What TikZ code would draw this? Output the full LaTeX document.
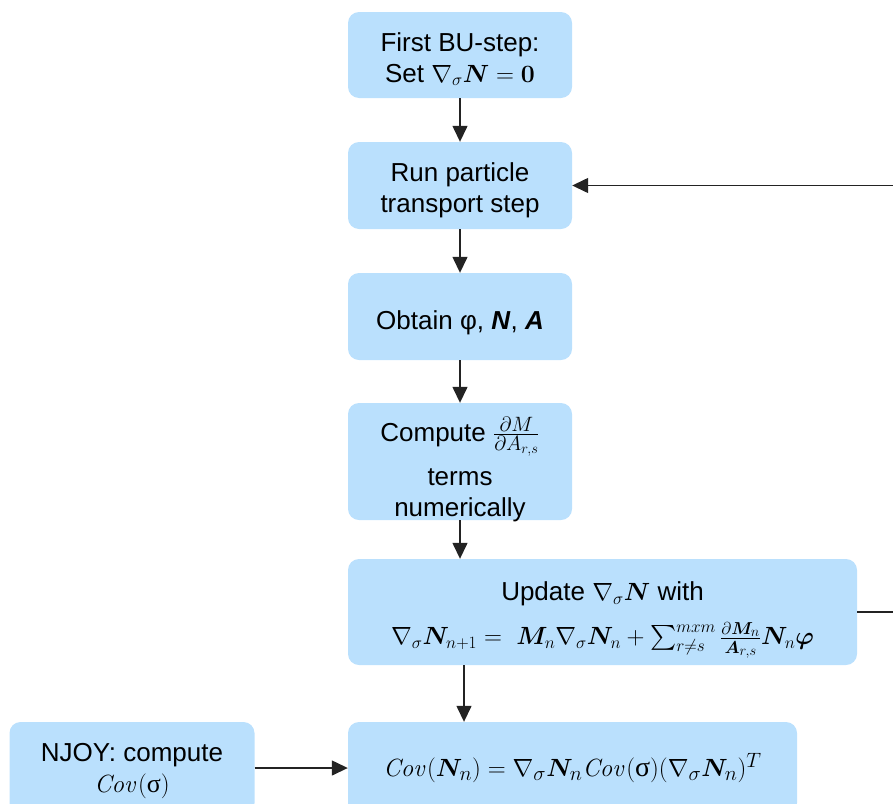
\documentclass[tikz,border=0pt]{standalone}
\usepackage{amsmath,bm}
\usepackage[no-math]{fontspec}
\setmainfont{Liberation Sans}
\newfontfamily\grserif{Liberation Serif}
\usetikzlibrary{arrows.meta}
\definecolor{boxblue}{RGB}{186,224,253}
\definecolor{edgegray}{RGB}{35,35,35}
\begin{document}
\begin{tikzpicture}[x=1pt,y=-1pt,
  flow/.style={fill=boxblue, rounded corners=11pt, inner sep=0pt},
  txt/.style={inner sep=0pt, align=center, font=\fontsize{26}{31}\selectfont, text=black},
  arr/.style={draw=edgegray, line width=1.4pt, -{Triangle[length=16pt,width=15pt]}}]
\useasboundingbox (0,0) rectangle (893,803);
\clip (0,0) rectangle (893,803);
% boxes
\node[flow, minimum width=224pt, minimum height=86pt] (b1) at (460,55) {};
\node[flow, minimum width=224pt, minimum height=87pt] (b2) at (460,185.5) {};
\node[flow, minimum width=224pt, minimum height=87pt] (b3) at (460,316.5) {};
\node[flow, minimum width=224pt, minimum height=117pt] (b4) at (460,461.5) {};
\node[flow, minimum width=509pt, minimum height=106pt] (b5) at (602.5,612) {};
\node[flow, minimum width=449pt, minimum height=92pt] (b6) at (572.5,768) {};
\node[flow, minimum width=245pt, minimum height=92pt] (b7) at (132,768) {};
% texts
\node[txt] (t1) at ([yshift=-4pt]b1.center)
  {First BU-step:\\Set $\nabla_{\sigma}\boldsymbol{N}=\mathbf{0}$};
\node[txt] (t2) at ([yshift=-5pt]b2.center)
  {Run particle\\transport step};
\node[txt] (t3) at ([yshift=-6pt]b3.center)
  {Obtain φ, \textbf{\textit{N}}, \textbf{\textit{A}}};
\node[txt] (t4) at ([yshift=-8pt]b4.center)
  {Compute {\fontsize{29}{31}\selectfont$\frac{\partial M}{\partial A_{r,s}}$}\\[11pt]terms\\numerically};
\node[txt] (t5) at ([yshift=-8pt]b5.center)
  {Update $\nabla_{\sigma}\boldsymbol{N}$ with\\[13pt]
   {\fontsize{27}{31}\selectfont$\nabla_{\sigma}\boldsymbol{N}_{n+1} =\ \boldsymbol{M}_n\nabla_{\sigma}\boldsymbol{N}_n
   + \sum_{r\neq s}^{mxm}\frac{\partial\boldsymbol{M}_n}{\boldsymbol{A}_{r,s}}\boldsymbol{N}_n\boldsymbol{\varphi}$}};
\node[txt, font=\fontsize{28}{31}\selectfont] (t6) at (b6.center)
  {$\mathit{Cov}(\boldsymbol{N}_n) = \nabla_{\sigma}\boldsymbol{N}_n\mathit{Cov}(\text{\grserif σ})(\nabla_{\sigma}\boldsymbol{N}_n)^T$};
\node[txt] (t7) at ([yshift=-3pt]b7.center)
  {NJOY: compute\\$\mathit{Cov}(\text{\grserif σ})$};
% connectors
\coordinate (lane) at (464,690);
\coordinate (loop) at (930,400);
\draw[arr] (b1) -- (b2);
\draw[arr] (b2) -- (b3);
\draw[arr] (b3) -- (b4);
\draw[arr] (b4.south) -- (b4.south |- b5.north);
\draw[arr] (b5.south -| lane) -- (b6.north -| lane);
\draw[arr] (b7) -- (b6);
\draw[arr] (b5.east) -- (b5.east -| loop) |- (b2.east);
\end{tikzpicture}
\end{document}
